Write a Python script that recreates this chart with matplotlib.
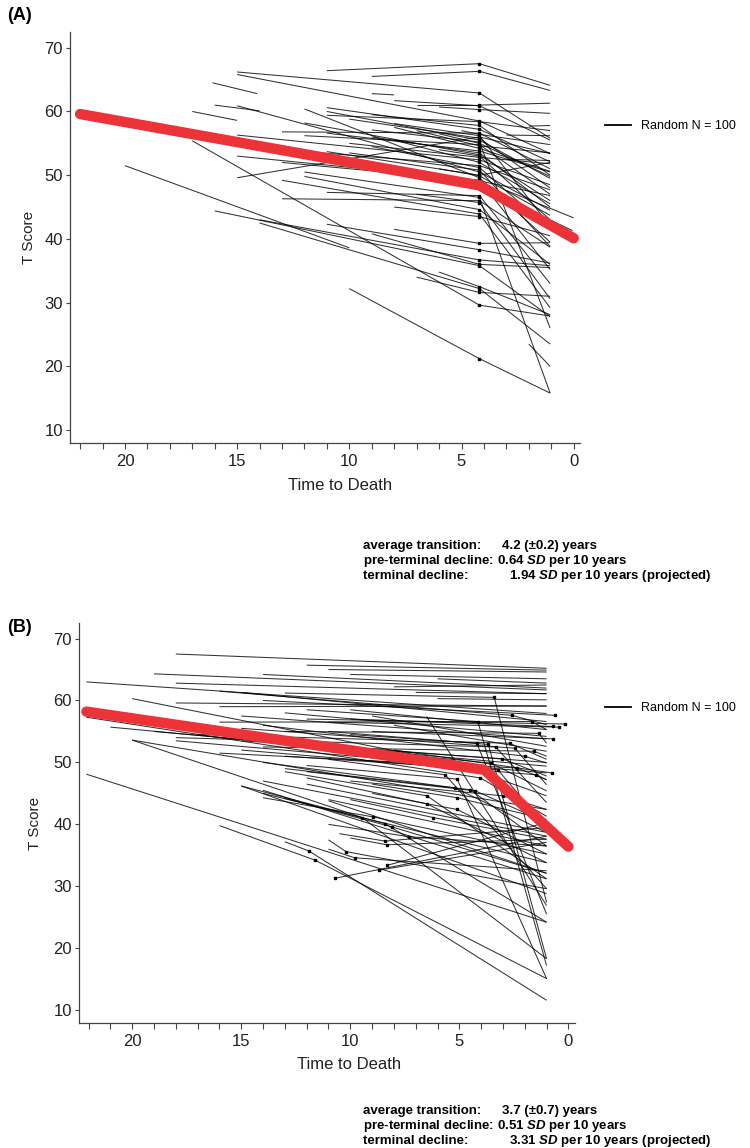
import matplotlib
matplotlib.use('Agg')
import matplotlib.pyplot as plt
from matplotlib.lines import Line2D
from matplotlib import font_manager

# Fonts: condensed sans for the axes if present, bold sans for the notes.
installed = {f.name for f in font_manager.fontManager.ttflist}
narrow = 'Liberation Sans Narrow' if 'Liberation Sans Narrow' in installed else 'Liberation Sans'
plt.rcParams['font.family'] = ['Liberation Sans', 'DejaVu Sans']
plt.rcParams['mathtext.fontset'] = 'custom'
plt.rcParams['mathtext.it'] = 'Liberation Sans:italic:bold'
plt.rcParams['mathtext.rm'] = 'Liberation Sans:bold'

# ---- Panel A: individual trajectories (time to death, T score) ----
# pre-terminal pieces (t0, y0, t1, y1); a dot marks the change point at 4.2
a_pre = [
    (11.0, 66.4, 4.2, 67.5), (9.0, 65.5, 4.2, 66.3), (15.0, 66.2, 4.2, 62.9),
    (15.0, 65.8, 4.2, 58.5), (16.1, 64.5, 14.1, 62.8), (9.0, 62.8, 8.0, 62.6),
    (8.0, 61.7, 4.2, 60.9), (7.0, 61.0, 4.2, 61.0), (6.0, 60.7, 4.2, 60.3),
    (16.0, 61.0, 14.0, 60.1), (17.0, 60.0, 15.0, 58.6), (15.0, 60.9, 4.2, 50.5),
    (12.0, 60.4, 4.2, 49.6), (11.0, 60.6, 4.2, 57.2), (11.0, 60.0, 4.2, 55.5),
    (11.0, 59.4, 4.2, 58.4), (13.0, 56.8, 4.2, 56.6), (12.0, 56.2, 4.2, 54.8),
    (11.0, 56.6, 4.2, 53.8), (9.0, 57.1, 4.2, 55.2), (8.0, 58.1, 4.2, 56.2),
    (15.0, 56.3, 4.2, 52.4), (15.0, 53.0, 4.2, 49.2), (15.0, 49.6, 4.2, 56.0),
    (13.0, 52.0, 4.2, 49.1), (12.0, 50.5, 4.2, 46.5), (13.0, 49.2, 4.2, 43.9),
    (13.0, 46.3, 4.2, 46.0), (11.0, 47.3, 4.2, 46.8), (12.0, 49.8, 4.2, 44.6),
    (20.0, 51.5, 10.0, 38.6), (17.0, 55.4, 4.2, 29.6), (16.0, 44.4, 4.2, 35.8),
    (14.0, 43.0, 4.2, 36.7), (11.0, 42.3, 4.2, 38.3), (10.0, 32.2, 4.2, 21.2),
    (9.0, 40.8, 4.2, 36.0), (6.0, 34.8, 4.2, 32.5), (14.0, 42.5, 4.2, 32.2),
    (8.0, 45.0, 4.2, 43.5), (7.0, 47.0, 4.2, 45.7), (10.0, 55.0, 4.2, 52.8),
    (9.0, 56.0, 4.2, 53.5), (7.0, 57.0, 4.2, 54.6), (10.0, 53.5, 4.2, 50.8),
    (6.0, 56.5, 4.2, 55.0), (9.0, 54.5, 4.2, 51.2), (11.0, 53.7, 4.2, 50.0),
    (7.0, 34.0, 4.2, 31.6), (13.0, 54.0, 4.2, 51.5), (6.0, 51.0, 4.2, 49.9),
    (6.0, 54.0, 4.2, 53.0), (8.0, 57.5, 4.2, 54.2), (8.0, 41.5, 4.2, 39.3),
    (10.0, 58.8, 4.2, 55.8), (12.0, 58.2, 4.2, 53.2), (9.0, 59.5, 4.2, 57.8),
    (8.0, 55.5, 4.2, 52.0), (5.0, 57.0, 4.2, 56.4),
]
# terminal pieces (t0, y0, t1, y1)
a_term = [
    (4.2, 67.5, 1.05, 64.1), (4.2, 66.3, 1.05, 63.3), (4.2, 62.9, 1.05, 55.8),
    (4.2, 61.0, 1.05, 61.3), (4.2, 60.3, 1.05, 59.7), (4.2, 60.9, 1.05, 55.5),
    (4.2, 58.5, 1.05, 53.4), (4.2, 58.4, 1.05, 57.0), (4.2, 57.2, 1.05, 52.1),
    (4.2, 56.6, 1.05, 51.0), (4.2, 56.2, 1.05, 42.0), (4.2, 56.0, 1.05, 53.4),
    (4.2, 55.5, 1.05, 49.5), (4.2, 55.2, 1.05, 26.0), (4.2, 55.0, 1.05, 49.8),
    (4.2, 54.8, 1.05, 47.0), (4.2, 54.6, 1.05, 53.5), (4.2, 54.2, 1.05, 50.6),
    (4.2, 53.8, 1.05, 50.5), (4.2, 53.5, 1.05, 45.0), (4.2, 53.0, 1.05, 43.0),
    (4.2, 52.8, 1.05, 51.8), (4.2, 52.4, 1.05, 48.5), (4.2, 51.5, 1.05, 47.7),
    (4.2, 51.2, 1.05, 41.5), (4.2, 50.8, 1.05, 38.8), (4.2, 50.5, 1.05, 44.5),
    (4.2, 50.0, 1.05, 52.0), (4.2, 49.9, 1.05, 43.7), (4.2, 49.6, 1.05, 39.5),
    (4.2, 49.2, 1.05, 35.2), (4.2, 49.1, 1.05, 46.8), (4.2, 46.8, 1.05, 33.0),
    (4.2, 46.5, 1.05, 15.8), (4.2, 46.0, 1.05, 38.7), (4.2, 45.7, 1.05, 30.6),
    (4.2, 44.6, 1.05, 36.0), (4.2, 43.9, 1.05, 29.2), (4.2, 43.5, 1.05, 40.5),
    (4.2, 39.3, 1.05, 39.4), (4.2, 38.3, 1.05, 36.2), (4.2, 36.7, 1.05, 35.8),
    (4.2, 36.0, 1.05, 35.5), (4.2, 35.8, 1.05, 27.8), (4.2, 32.5, 1.05, 28.1),
    (4.2, 32.2, 1.05, 23.5), (4.2, 31.6, 1.05, 31.0), (4.2, 29.6, 1.05, 27.9),
    (4.2, 21.2, 1.05, 15.8), (2.0, 23.5, 1.05, 20.0), (3.0, 47.6, 0.0, 43.3),
    (1.0, 42.9, 0.05, 41.3), (3.0, 56.3, 1.05, 56.2), (2.0, 57.7, 1.05, 57.8),
    (3.0, 52.5, 1.05, 52.3), (4.2, 55.8, 1.05, 48.0), (4.2, 53.2, 1.05, 46.0),
    (4.2, 57.8, 1.05, 50.0), (4.2, 52.0, 1.05, 45.5), (4.2, 56.4, 1.05, 54.8),
]
a_change = 4.2
a_mean_t = [22.0, 4.2, 0.0]
a_mean_y = [59.6, 48.4, 40.1]

# ---- Panel B: subjects (t0, y0, change t, change y, t1, y1); None = no change point ----
b_subjects = [
    (18.0, 67.5, None, None, 1.0, 65.2), (12.0, 65.7, None, None, 1.0, 64.9),
    (11.0, 65.0, None, None, 1.0, 64.6), (19.0, 64.3, None, None, 1.0, 61.7),
    (14.0, 64.2, None, None, 1.0, 62.0), (10.0, 64.2, None, None, 1.0, 63.5),
    (6.0, 63.5, None, None, 1.0, 62.8), (22.1, 63.0, None, None, 1.0, 57.9),
    (18.0, 62.8, None, None, 1.0, 61.1), (8.0, 62.2, None, None, 1.0, 62.5),
    (7.0, 61.3, None, None, 1.0, 61.1), (6.0, 60.3, None, None, 1.0, 60.1),
    (18.0, 59.6, None, None, 1.0, 59.1), (16.0, 59.0, None, None, 1.0, 59.1),
    (15.0, 61.3, None, None, 1.0, 56.6), (13.0, 61.2, 3.4, 60.5, 1.0, 27.4),
    (16.0, 61.5, 2.6, 57.6, 1.0, 56.1), (14.0, 60.0, 0.6, 57.6, 0.6, 57.6),
    (6.5, 57.4, None, None, 1.0, 26.9), (22.1, 48.1, None, None, 1.0, 24.2),
    (16.0, 39.8, 11.6, 34.2, 1.0, 15.1), (13.0, 37.2, 11.9, 35.7, 1.0, 11.6),
    (10.7, 31.3, 10.7, 31.3, 1.0, 38.1), (11.0, 37.5, 10.2, 35.6, 1.0, 29.6),
    (11.0, 36.0, 9.8, 34.6, 1.0, 32.5), (20.0, 53.6, 9.45, 41.1, 1.0, 18.3),
    (14.0, 44.3, 8.95, 41.2, 1.0, 35.2), (15.0, 46.2, 8.4, 40.1, 1.0, 24.2),
    (13.0, 44.2, 8.1, 39.6, 1.0, 32.1), (11.0, 40.0, 7.3, 38.0, 1.0, 36.5),
    (10.5, 38.5, 8.4, 37.3, 1.0, 39.5), (10.0, 37.8, 8.33, 36.7, 1.0, 37.6),
    (8.7, 32.6, 8.7, 32.6, 1.0, 37.1), (8.3, 33.4, 8.3, 33.4, 1.0, 40.3),
    (13.0, 48.5, 6.48, 44.6, 1.0, 31.2), (12.0, 47.5, 6.48, 43.3, 1.0, 33.8),
    (10.0, 44.0, 6.2, 41.1, 1.0, 37.6), (9.0, 46.5, 5.1, 44.3, 1.0, 40.8),
    (9.0, 45.0, 5.1, 42.4, 1.0, 35.2), (22.1, 57.3, 4.04, 47.5, 1.0, 41.3),
    (21.0, 55.7, 3.56, 49.9, 1.0, 45.4), (20.0, 53.6, None, None, 1.0, 42.4),
    (20.0, 60.3, 5.43, 50.1, 1.0, 44.6), (15.0, 53.5, 3.05, 50.6, 1.0, 47.8),
    (14.0, 56.0, 2.0, 51.0, 1.0, 49.9), (13.0, 55.0, 1.36, 54.7, 1.0, 53.1),
    (16.0, 56.5, 1.69, 56.6, 1.0, 55.3), (12.0, 57.0, 0.15, 56.2, 0.15, 56.2),
    (10.0, 57.0, 0.7, 55.8, 0.7, 55.8), (11.0, 56.5, 0.42, 55.7, 0.42, 55.7),
    (9.0, 55.0, 0.7, 53.8, 0.7, 53.8), (8.0, 52.0, 0.75, 48.3, 0.75, 48.3),
    (17.0, 54.5, 2.7, 53.1, 1.0, 50.5), (15.0, 55.5, 2.46, 52.3, 1.0, 46.4),
    (18.0, 54.0, 3.34, 52.5, 1.0, 43.5), (14.0, 52.5, 1.58, 51.8, 1.0, 51.0),
    (16.0, 51.5, 2.35, 49.1, 1.0, 47.2), (13.0, 51.0, 3.23, 48.8, 1.0, 39.5),
    (11.0, 50.5, 5.65, 48.0, 1.0, 29.6), (12.0, 49.5, 5.1, 47.3, 1.0, 15.1),
    (15.0, 52.0, 1.47, 48.0, 1.0, 47.2), (14.0, 50.0, 5.2, 45.9, 1.0, 38.7),
    (13.0, 49.0, 4.5, 45.6, 1.0, 36.5), (12.0, 48.5, 4.26, 45.4, 1.0, 40.3),
    (10.0, 47.0, 3.0, 44.6, 1.0, 42.4), (14.0, 47.0, None, None, 1.0, 38.1),
    (14.0, 45.0, None, None, 1.0, 33.8), (12.0, 58.5, 4.15, 56.6, 1.0, 17.2),
    (11.0, 55.0, 3.67, 52.9, 1.0, 18.3), (10.0, 54.5, 4.2, 53.1, 1.0, 25.5),
    (19.0, 55.0, None, None, 1.0, 49.4), (18.0, 53.5, None, None, 1.0, 48.3),
    (14.0, 53.5, None, None, 1.0, 50.0), (15.0, 57.5, None, None, 1.0, 53.8),
    (13.0, 58.0, None, None, 1.0, 54.2), (10.0, 58.5, None, None, 1.0, 55.3),
    (9.0, 57.5, None, None, 1.0, 52.6), (8.0, 56.0, None, None, 1.0, 51.8),
    (12.0, 46.5, None, None, 1.0, 38.7), (11.0, 44.0, None, None, 1.0, 36.5),
    (15.0, 46.2, None, None, 1.0, 28.8), (14.0, 45.5, None, None, 1.0, 31.2),
    (11.0, 43.8, None, None, 1.0, 32.1),
]
b_mean_t = [22.1, 3.85, 0.0]
b_mean_y = [58.2, 48.8, 36.4]

legend_text = 'Random N = 100'
a_stats = ['4.2 (±0.2) years', '0.64', '1.94']
b_stats = ['3.7 (±0.7) years', '0.51', '3.31']

fig = plt.figure(figsize=(7.5, 11.48), dpi=100)
ax_a = fig.add_axes([0.0933, 0.614, 0.680, 0.358])
ax_b = fig.add_axes([0.105, 0.109, 0.661, 0.348])

line_kw = dict(color='black', lw=0.75, alpha=0.8, zorder=2, solid_capstyle='butt')
dot_kw = dict(marker='s', ms=2.0, color='black', ls='none', zorder=2.5)

# panel A
for t0, y0, t1, y1 in a_pre:
    ax_a.plot([t0, t1], [y0, y1], **line_kw)
    if t1 == a_change:
        ax_a.plot([t1], [y1], **dot_kw)
for t0, y0, t1, y1 in a_term:
    ax_a.plot([t0, t1], [y0, y1], **line_kw)

# panel B
for t0, y0, tc, yc, t1, y1 in b_subjects:
    if tc is None:
        ax_b.plot([t0, t1], [y0, y1], **line_kw)
    else:
        ax_b.plot([t0, tc, t1], [y0, yc, y1], **line_kw)
        ax_b.plot([tc], [yc], **dot_kw)

for ax, mt, my in [(ax_a, a_mean_t, a_mean_y), (ax_b, b_mean_t, b_mean_y)]:
    ax.plot(mt, my, color='#ec3438', lw=7.5, solid_capstyle='round',
            solid_joinstyle='round', zorder=3)

    ax.set_xlim(22.45, -0.28)
    ax.set_ylim(7.95, 72.45)
    ax.set_xticks(range(0, 23))
    ax.set_xticklabels([str(t) if t % 5 == 0 else '' for t in range(0, 23)])
    ax.set_yticks(range(10, 71, 10))
    for side in ['top', 'right']:
        ax.spines[side].set_visible(False)
    for side in ['left', 'bottom']:
        ax.spines[side].set_color('#444444')
        ax.spines[side].set_linewidth(0.9)
    ax.tick_params(axis='x', direction='out', length=4, width=0.8, color='#444444',
                   labelsize=12, pad=4)
    ax.tick_params(axis='y', direction='out', length=3, width=0.8, color='#444444',
                   labelsize=12, pad=2)
    for lab in ax.get_xticklabels() + ax.get_yticklabels():
        lab.set_family([narrow, 'DejaVu Sans'])
        lab.set_color('#222222')
    ax.set_xlabel('Time to Death', fontsize=12, family=[narrow, 'DejaVu Sans'], color='#222222')
    ax.set_ylabel('T Score', fontsize=11, color='#222222')

ax_a.xaxis.set_label_coords(0.53, -0.086)
ax_a.yaxis.set_label_coords(-0.066, 0.5)
ax_b.xaxis.set_label_coords(0.546, -0.086)
ax_b.yaxis.set_label_coords(-0.074, 0.5)

# legends outside the plot area
handle = Line2D([], [], color='black', lw=1.3)
for ax, ly in [(ax_a, 1 - 126 / 1148), (ax_b, 1 - 708 / 1148)]:
    ax.legend([handle], [legend_text], loc='center left', bbox_to_anchor=(0.806, ly),
              bbox_transform=fig.transFigure, frameon=False, handlelength=2.1,
              handletextpad=0.8, borderpad=0, borderaxespad=0,
              prop={'family': [narrow, 'DejaVu Sans'], 'size': 9})

# panel tags
fig.text(0.010, 1 - 15 / 1148, '(A)', fontsize=13, fontweight='bold', va='center')
fig.text(0.010, 1 - 627 / 1148, '(B)', fontsize=13, fontweight='bold', va='center')

# summary notes under each panel
def notes(ytop, vals):
    x0 = 363 / 750
    step = 15 / 1148
    kw = dict(fontsize=9.5, fontweight='bold', va='center')
    fig.text(x0, ytop, 'average transition:', **kw)
    fig.text(502 / 750, ytop, vals[0], **kw)
    fig.text(x0, ytop - step, 'pre-terminal decline: ' + vals[1] + r' $\mathit{SD}$ per 10 years', **kw)
    fig.text(x0, ytop - 2 * step, 'terminal decline:', **kw)
    fig.text(509 / 750, ytop - 2 * step, vals[2] + r' $\mathit{SD}$ per 10 years (projected)', **kw)

notes(1 - 546 / 1148, a_stats)
notes(1 - 1111 / 1148, b_stats)

fig.savefig('out.png', dpi=100)
